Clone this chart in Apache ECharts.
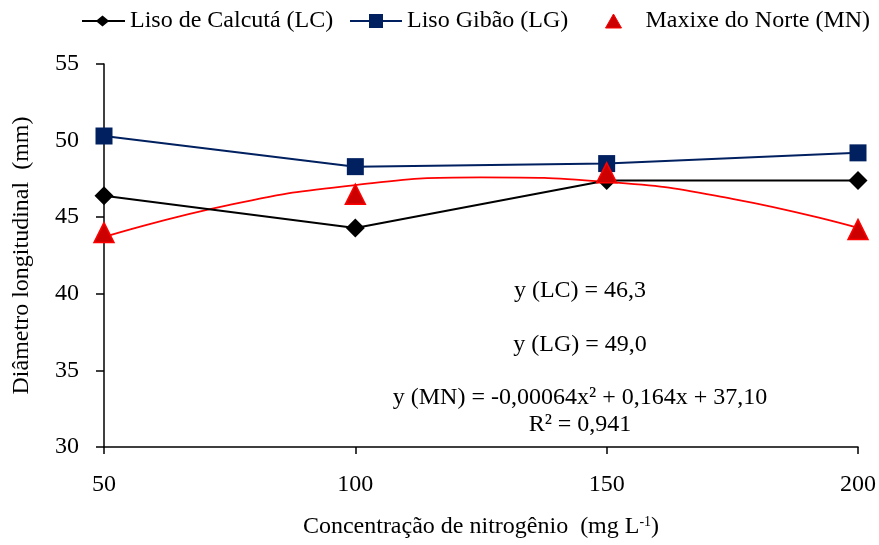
<!DOCTYPE html>
<html>
<head>
<meta charset="utf-8">
<script src="https://cdn.jsdelivr.net/npm/echarts@6/dist/echarts.min.js"></script>
<style>html,body{margin:0;padding:0;background:#fff}#c{width:879px;height:545px}</style>
</head>
<body>
<div id="c"></div>
<script>
var xValues = [50, 100, 150, 200];
var lcValues = [46.4, 44.3, 47.4, 47.4];
var lgValues = [50.3, 48.3, 48.5, 49.2];
var mnValues = [44.0, 46.5, 47.9, 44.2];
var trendX = [50, 75, 100, 125, 150, 175, 200];
var trendY = [43.7, 45.8, 47.1, 47.6, 47.3, 46.2, 44.3];
var yTicks = [30, 35, 40, 45, 50, 55];
var xTicks = [50, 100, 150, 200];
var seriesNames = ['Liso de Calcutá (LC)', 'Liso Gibão (LG)', 'Maxixe do Norte (MN)'];
var eqTexts = ['y (LC) = 46,3', 'y (LG) = 49,0', 'y (MN) = -0,00064x² + 0,164x + 37,10', 'R² = 0,941'];

function pairs(xs, ys) { return xs.map(function (x, i) { return [x, ys[i]]; }); }

var FONT = '"Liberation Serif", "Times New Roman", serif';
var legendText = { fontFamily: FONT, fontSize: 24, color: '#000' };
var chart = echarts.init(document.getElementById('c'));
var eqY = [291, 345, 398, 425];
chart.setOption({
  animation: false,
  backgroundColor: '#fff',
  textStyle: { fontFamily: FONT, color: '#000' },
  grid: { left: 104, right: 20, top: 64, bottom: 98 },
  legend: [
    {
      data: [seriesNames[0]], left: 82, top: 9, padding: 0, itemWidth: 43, itemHeight: 11,
      icon: 'path://M0,4.5H15L20.5,0L26,4.5H43V6.5H26L20.5,11L15,6.5H0Z',
      textStyle: legendText
    },
    {
      data: [seriesNames[1]], left: 350, top: 9, padding: 0, itemWidth: 52, itemHeight: 14,
      icon: 'path://M0,6H19V0H33V6H52V8H33V14H19V8H0Z',
      textStyle: legendText
    },
    {
      data: [seriesNames[2]], left: 605, top: 9, padding: 0, itemWidth: 16, itemHeight: 14,
      icon: 'triangle', itemStyle: { borderColor: '#FF0000', borderWidth: 1 },
      textStyle: { fontFamily: FONT, fontSize: 24, color: '#000', padding: [0, 0, 0, 19] }
    }
  ],
  xAxis: {
    type: 'value', min: xTicks[0], max: xTicks[xTicks.length - 1], interval: 50,
    name: '{a|Concentração de nitrogênio  (mg L}{s|-1}{a|)}',
    nameLocation: 'middle', nameGap: 68,
    nameTextStyle: { rich: { a: { fontFamily: FONT, fontSize: 24, color: '#000' }, s: { fontFamily: FONT, fontSize: 14, color: '#000', verticalAlign: 'top' } } },
    axisLine: { lineStyle: { color: '#000', width: 1.5 } },
    axisTick: { show: true, length: 7, lineStyle: { color: '#000', width: 1.5 } },
    axisLabel: { fontFamily: FONT, fontSize: 24, color: '#000', margin: 26 },
    splitLine: { show: false }
  },
  yAxis: {
    type: 'value', min: yTicks[0], max: yTicks[yTicks.length - 1], interval: 5,
    name: 'Diâmetro longitudinal  (mm)',
    nameLocation: 'middle', nameGap: 70, nameRotate: 90,
    nameTextStyle: { fontFamily: FONT, fontSize: 24, color: '#000' },
    axisLine: { show: true, lineStyle: { color: '#000', width: 1.5 } },
    axisTick: { show: true, length: 8, lineStyle: { color: '#000', width: 1.5 } },
    axisLabel: { fontFamily: FONT, fontSize: 24, color: '#000', margin: 25 },
    splitLine: { show: false }
  },
  graphic: eqTexts.map(function (t, i) {
    return { type: 'text', x: 580, y: eqY[i], style: { text: t, textAlign: 'center', textVerticalAlign: 'middle', font: '24px ' + FONT, fill: '#000' } };
  }),
  series: [
    {
      name: 'trend', type: 'line', data: pairs(trendX, trendY), smooth: true, showSymbol: false, symbol: 'none',
      lineStyle: { color: '#FF0000', width: 1.8 }, z: 1, silent: true
    },
    {
      name: seriesNames[0], type: 'line', data: pairs(xValues, lcValues),
      symbol: 'diamond', symbolSize: 19, itemStyle: { color: '#000' },
      lineStyle: { color: '#000', width: 2 }, z: 3
    },
    {
      name: seriesNames[1], type: 'line', data: pairs(xValues, lgValues),
      symbol: 'rect', symbolSize: 17, itemStyle: { color: '#002060' },
      lineStyle: { color: '#002060', width: 2 }, z: 3
    },
    {
      name: seriesNames[2], type: 'scatter', data: pairs(xValues, mnValues),
      symbol: 'triangle', symbolSize: 20, itemStyle: { color: '#CC0000', borderColor: '#FF0000', borderWidth: 1.5, opacity: 1 }, z: 4
    }
  ]
});
</script>
</body>
</html>
